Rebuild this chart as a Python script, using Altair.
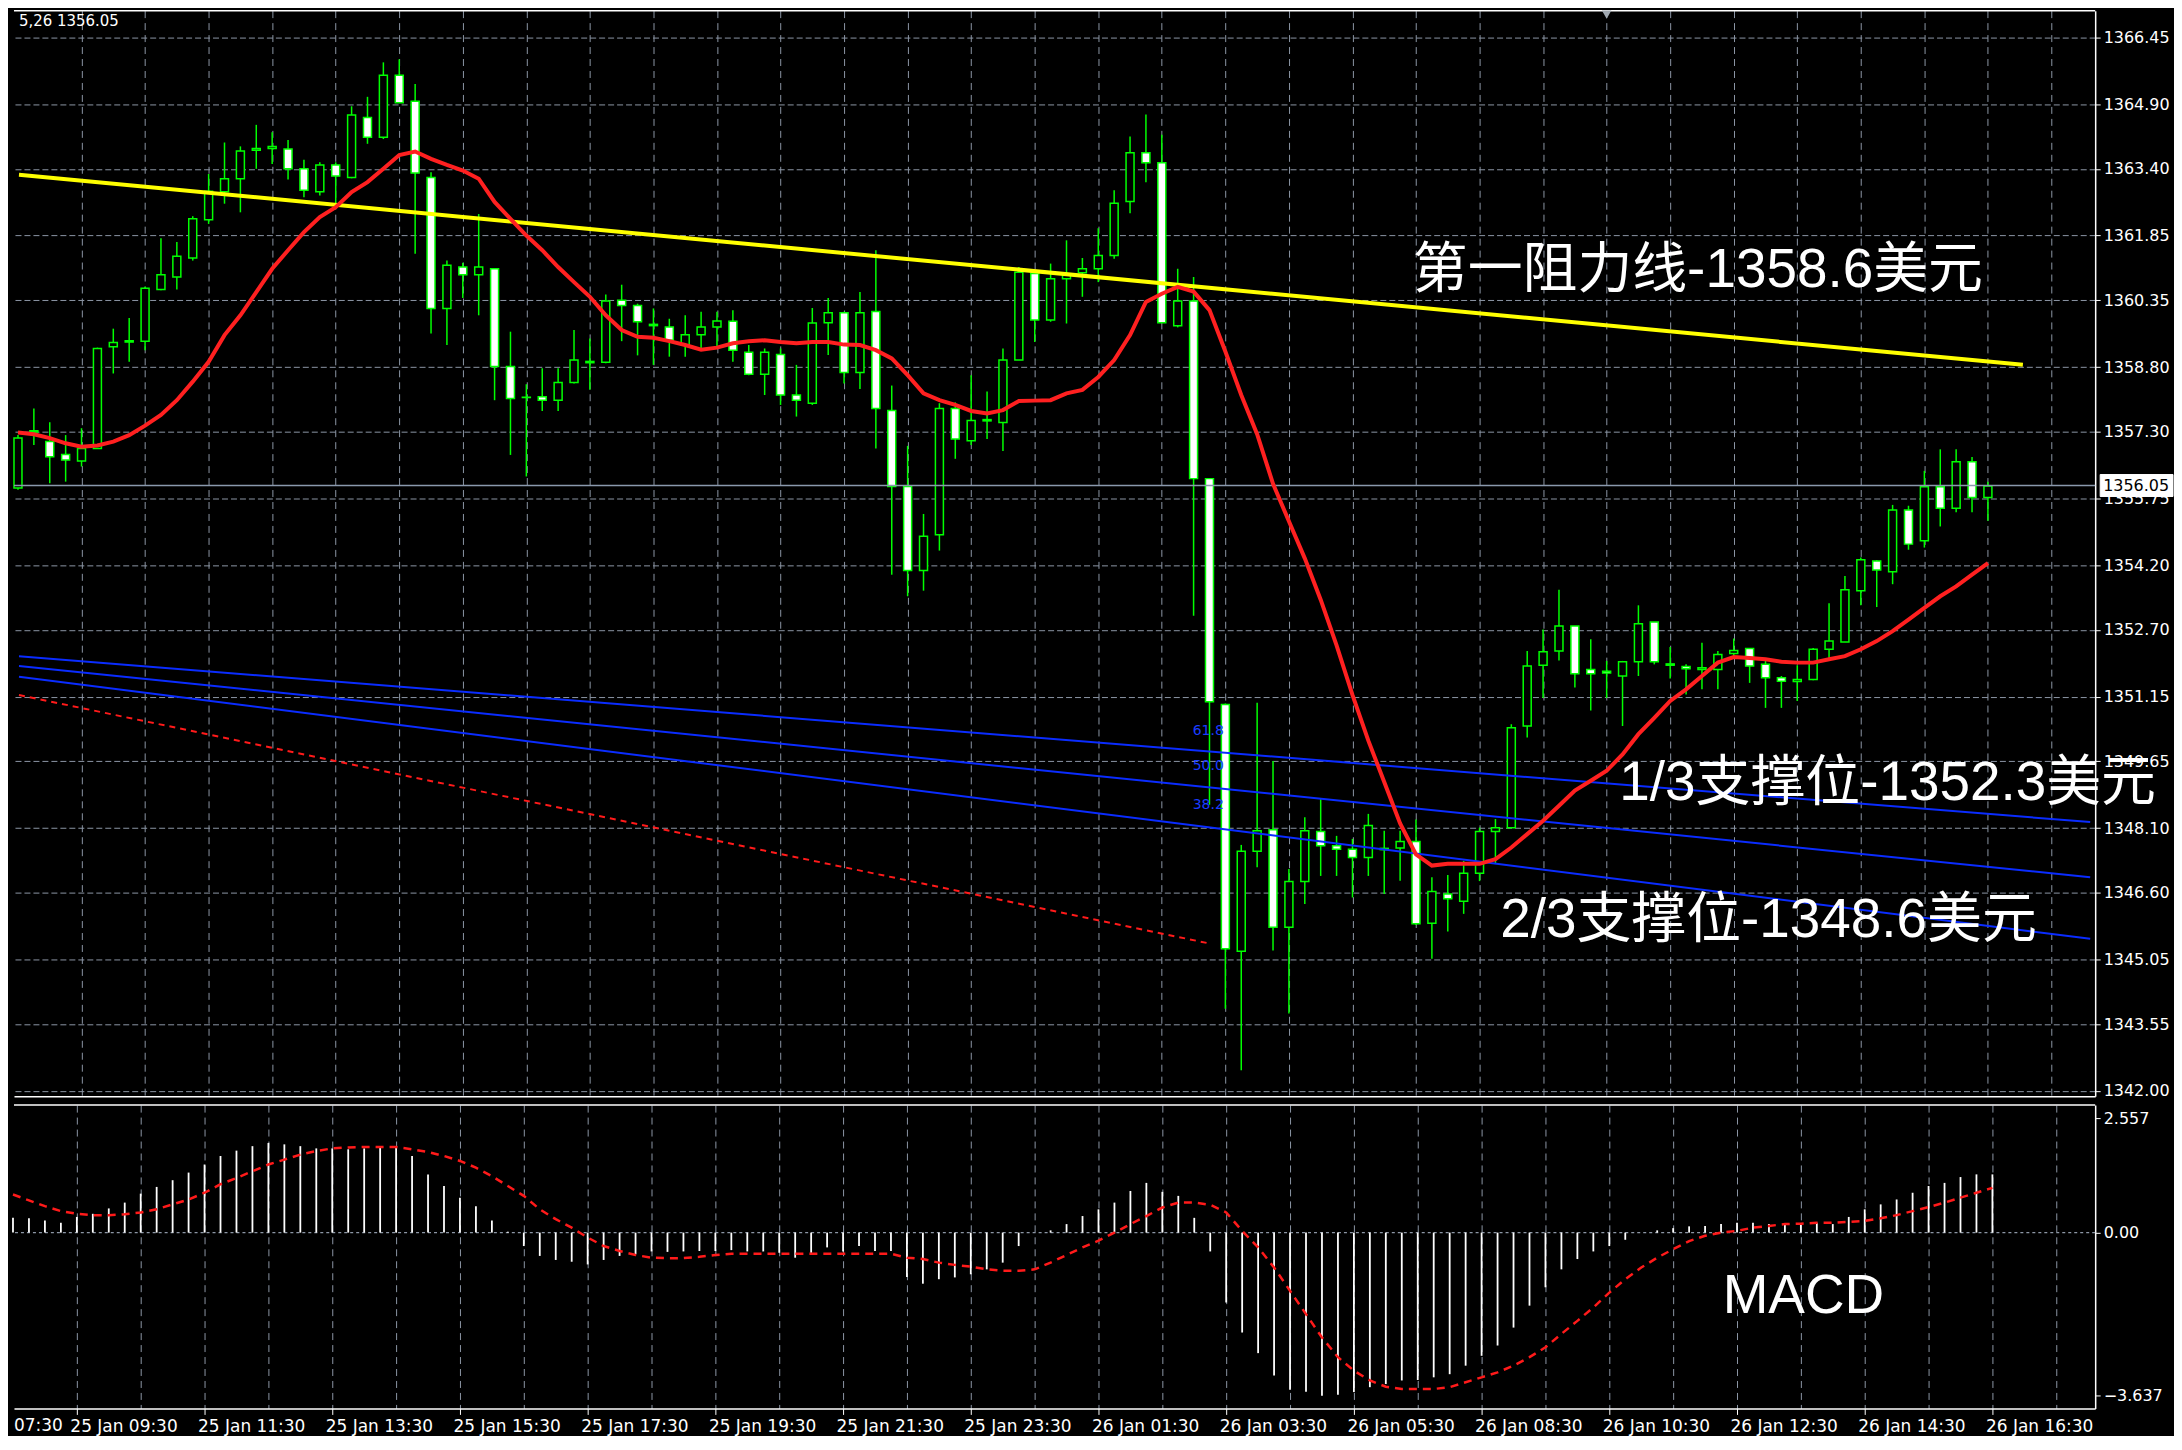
import altair as alt
import pandas as pd

# ---------------- data (M15 candles, index 0 = 25 Jan 08:30) ----------------
opens = [
    1355.99, 1357.29, 1357.07, 1356.77, 1356.62, 1356.91, 1359.27, 1359.38, 1359.40, 1360.60,
    1360.89, 1361.33, 1362.22, 1362.87, 1363.17, 1363.83, 1363.87, 1363.86, 1363.40, 1362.87,
    1363.49, 1363.20, 1364.59, 1364.13, 1365.57, 1364.97, 1363.20, 1360.16, 1361.12, 1360.94,
    1361.08, 1358.81, 1358.09, 1358.11, 1358.03, 1358.44, 1358.93, 1358.91, 1360.35, 1360.23,
    1359.79, 1359.73, 1359.31, 1359.55, 1359.73, 1359.86, 1359.14, 1358.63, 1359.09, 1358.15,
    1357.96, 1359.83, 1360.06, 1358.67, 1360.09, 1357.79, 1356.03, 1354.08, 1354.91, 1357.84,
    1357.09, 1357.58, 1357.51, 1358.96, 1360.97, 1359.89, 1360.85, 1360.99, 1361.08, 1361.39,
    1362.64, 1363.77, 1363.54, 1359.76, 1360.33, 1356.21, 1350.97, 1345.24, 1347.56, 1348.06,
    1345.80, 1346.86, 1348.02, 1347.69, 1347.61, 1347.42, 1347.63, 1347.64, 1347.79, 1345.89,
    1346.57, 1346.40, 1347.05, 1348.02, 1348.11, 1350.47, 1351.88, 1352.21, 1352.79, 1351.78,
    1351.74, 1351.63, 1351.96, 1352.88, 1351.91, 1351.85, 1351.78, 1351.78, 1352.15, 1352.27,
    1351.90, 1351.59, 1351.50, 1351.55, 1352.25, 1352.42, 1353.61, 1354.30, 1354.05, 1355.48,
    1354.77, 1356.02, 1355.52, 1356.60, 1355.77]
highs = [
    1357.22, 1357.84, 1357.52, 1357.22, 1357.38, 1359.25, 1359.69, 1359.94, 1360.66, 1361.79,
    1361.70, 1362.30, 1363.28, 1364.01, 1363.92, 1364.42, 1364.25, 1364.07, 1363.61, 1363.55,
    1363.55, 1364.85, 1365.07, 1365.87, 1365.94, 1365.37, 1363.32, 1361.27, 1361.22, 1362.35,
    1361.08, 1359.62, 1358.40, 1358.77, 1358.77, 1359.66, 1359.46, 1360.48, 1360.71, 1360.27,
    1360.16, 1359.92, 1360.00, 1360.08, 1360.08, 1360.12, 1359.31, 1359.23, 1359.23, 1358.85,
    1360.17, 1360.40, 1360.08, 1360.54, 1361.51, 1358.37, 1356.97, 1355.39, 1357.96, 1357.98,
    1358.61, 1358.23, 1359.23, 1361.12, 1360.98, 1361.20, 1361.74, 1361.33, 1362.02, 1362.90,
    1364.15, 1364.66, 1364.19, 1361.08, 1360.89, 1356.21, 1350.99, 1347.71, 1351.01, 1349.66,
    1347.15, 1348.35, 1348.77, 1347.92, 1347.85, 1348.43, 1348.04, 1348.04, 1348.30, 1346.96,
    1347.01, 1347.34, 1348.11, 1348.31, 1350.51, 1352.21, 1352.71, 1353.63, 1352.79, 1352.48,
    1351.98, 1351.98, 1353.27, 1352.88, 1352.30, 1351.90, 1352.40, 1352.21, 1352.50, 1352.28,
    1351.98, 1351.63, 1351.88, 1352.28, 1353.32, 1353.95, 1354.38, 1354.32, 1355.60, 1355.58,
    1356.39, 1356.89, 1356.89, 1356.71, 1356.14]
lows = [
    1355.95, 1356.99, 1356.10, 1356.14, 1356.49, 1356.91, 1358.65, 1358.92, 1359.19, 1360.58,
    1360.60, 1361.27, 1362.12, 1362.59, 1362.39, 1363.40, 1363.51, 1363.15, 1362.74, 1362.78,
    1362.51, 1363.18, 1363.98, 1364.09, 1364.93, 1361.43, 1359.58, 1359.31, 1360.40, 1360.00,
    1358.03, 1356.76, 1356.26, 1357.78, 1357.78, 1358.42, 1358.27, 1358.89, 1359.40, 1359.07,
    1358.85, 1359.04, 1359.04, 1359.23, 1359.23, 1358.92, 1358.61, 1358.15, 1357.92, 1357.65,
    1357.92, 1359.08, 1358.42, 1358.29, 1356.91, 1353.98, 1353.48, 1353.61, 1354.54, 1356.67,
    1356.99, 1357.13, 1356.85, 1358.96, 1359.38, 1359.85, 1359.81, 1360.43, 1360.77, 1361.31,
    1362.37, 1363.09, 1359.82, 1359.72, 1353.03, 1348.64, 1343.91, 1342.48, 1347.19, 1345.26,
    1343.80, 1346.34, 1346.99, 1346.99, 1346.49, 1346.99, 1346.57, 1346.88, 1345.85, 1345.07,
    1345.70, 1346.11, 1346.87, 1347.27, 1348.11, 1350.20, 1351.12, 1351.99, 1351.36, 1350.83,
    1351.12, 1350.47, 1351.63, 1351.90, 1351.57, 1351.20, 1351.32, 1351.32, 1352.05, 1351.47,
    1350.89, 1350.89, 1351.05, 1351.53, 1351.98, 1352.42, 1353.27, 1353.23, 1353.76, 1354.56,
    1354.61, 1355.10, 1355.43, 1355.43, 1355.23]
closes = [
    1357.15, 1357.32, 1356.72, 1356.64, 1356.91, 1359.23, 1359.37, 1359.41, 1360.63, 1360.94,
    1361.37, 1362.24, 1362.88, 1363.17, 1363.81, 1363.87, 1363.92, 1363.40, 1362.90, 1363.49,
    1363.23, 1364.65, 1364.13, 1365.57, 1364.93, 1363.30, 1360.16, 1361.16, 1360.94, 1361.12,
    1358.81, 1358.07, 1358.10, 1358.03, 1358.44, 1358.96, 1358.90, 1360.33, 1360.23, 1359.85,
    1359.76, 1359.42, 1359.55, 1359.73, 1359.87, 1359.19, 1358.63, 1359.14, 1358.15, 1358.03,
    1359.82, 1360.06, 1358.67, 1360.06, 1357.84, 1356.03, 1354.08, 1354.87, 1357.84, 1357.13,
    1357.56, 1357.55, 1358.96, 1361.00, 1359.89, 1360.85, 1360.93, 1361.08, 1361.39, 1362.60,
    1363.77, 1363.54, 1359.83, 1360.33, 1356.21, 1351.03, 1345.30, 1347.56, 1348.04, 1345.80,
    1346.86, 1348.04, 1347.69, 1347.61, 1347.42, 1348.16, 1347.60, 1347.79, 1345.88, 1346.63,
    1346.46, 1347.05, 1348.02, 1348.11, 1350.43, 1351.86, 1352.19, 1352.79, 1351.68, 1351.68,
    1351.70, 1351.96, 1352.84, 1351.96, 1351.88, 1351.80, 1351.82, 1352.13, 1352.22, 1351.86,
    1351.59, 1351.51, 1351.55, 1352.25, 1352.44, 1353.63, 1354.33, 1354.09, 1355.48, 1354.69,
    1356.02, 1355.52, 1356.60, 1355.77, 1356.04]
ma_line = [
    1357.28, 1357.24, 1357.15, 1357.03, 1356.95, 1356.98, 1357.07, 1357.22, 1357.44, 1357.69,
    1358.03, 1358.46, 1358.92, 1359.54, 1360.00, 1360.54, 1361.08, 1361.51, 1361.93, 1362.28,
    1362.51, 1362.86, 1363.09, 1363.40, 1363.72, 1363.80, 1363.63, 1363.49, 1363.36, 1363.17,
    1362.63, 1362.24, 1361.85, 1361.51, 1361.12, 1360.77, 1360.43, 1360.00, 1359.66, 1359.50,
    1359.48, 1359.40, 1359.31, 1359.20, 1359.25, 1359.35, 1359.40, 1359.42, 1359.38, 1359.35,
    1359.38, 1359.38, 1359.32, 1359.31, 1359.19, 1359.00, 1358.61, 1358.19, 1358.03, 1357.92,
    1357.78, 1357.72, 1357.80, 1358.01, 1358.02, 1358.03, 1358.19, 1358.27, 1358.57, 1358.96,
    1359.54, 1360.31, 1360.50, 1360.66, 1360.55, 1360.12, 1359.16, 1358.15, 1357.24, 1356.09,
    1355.22, 1354.36, 1353.40, 1352.34, 1351.19, 1350.13, 1349.17, 1348.21, 1347.49, 1347.23,
    1347.27, 1347.27, 1347.27, 1347.38, 1347.65, 1347.96, 1348.27, 1348.62, 1348.97, 1349.20,
    1349.43, 1349.81, 1350.28, 1350.66, 1351.05, 1351.32, 1351.63, 1351.94, 1352.07, 1352.05,
    1352.02, 1351.96, 1351.94, 1351.94, 1352.02, 1352.09, 1352.25, 1352.44, 1352.67, 1352.94,
    1353.21, 1353.48, 1353.71, 1353.98, 1354.25]
macd_hist = [
    0.33, 0.32, 0.27, 0.22, 0.35, 0.42, 0.54, 0.67, 0.87, 1.02,
    1.17, 1.34, 1.52, 1.71, 1.83, 1.93, 2.00, 1.97, 1.93, 1.88,
    1.88, 1.86, 1.88, 1.91, 1.91, 1.71, 1.30, 1.04, 0.78, 0.59,
    0.27, 0.02, -0.30, -0.52, -0.61, -0.65, -0.71, -0.61, -0.52, -0.48,
    -0.42, -0.43, -0.42, -0.41, -0.41, -0.39, -0.42, -0.42, -0.45, -0.56,
    -0.45, -0.33, -0.42, -0.30, -0.41, -0.41, -0.99, -1.14, -1.04, -1.00,
    -0.93, -0.82, -0.67, -0.30, 0.00, 0.05, 0.19, 0.37, 0.52, 0.67,
    0.93, 1.11, 0.91, 0.82, 0.33, -0.42, -1.56, -2.23, -2.69, -3.19,
    -3.51, -3.55, -3.64, -3.62, -3.56, -3.45, -3.38, -3.30, -3.29, -3.23,
    -3.16, -2.97, -2.75, -2.52, -2.12, -1.63, -1.22, -0.82, -0.59, -0.42,
    -0.30, -0.16, 0.00, 0.05, 0.10, 0.14, 0.15, 0.19, 0.22, 0.22,
    0.19, 0.17, 0.17, 0.22, 0.19, 0.35, 0.52, 0.63, 0.74, 0.89,
    1.04, 1.11, 1.24, 1.30, 1.30]
macd_signal = [
    0.85, 0.72, 0.59, 0.48, 0.42, 0.39, 0.39, 0.41, 0.45, 0.52,
    0.63, 0.74, 0.89, 1.08, 1.22, 1.37, 1.52, 1.63, 1.74, 1.82,
    1.88, 1.90, 1.91, 1.91, 1.91, 1.86, 1.80, 1.71, 1.60, 1.45,
    1.26, 1.04, 0.82, 0.52, 0.30, 0.11, -0.11, -0.30, -0.41, -0.50,
    -0.56, -0.57, -0.57, -0.54, -0.50, -0.47, -0.47, -0.47, -0.47, -0.47,
    -0.47, -0.47, -0.47, -0.47, -0.47, -0.47, -0.56, -0.59, -0.67, -0.72,
    -0.76, -0.82, -0.85, -0.85, -0.82, -0.67, -0.50, -0.33, -0.18, 0.00,
    0.19, 0.37, 0.56, 0.67, 0.67, 0.62, 0.45, 0.04, -0.33, -0.78,
    -1.30, -1.82, -2.34, -2.78, -3.08, -3.30, -3.44, -3.49, -3.49, -3.49,
    -3.45, -3.34, -3.23, -3.12, -2.97, -2.78, -2.56, -2.26, -1.97, -1.67,
    -1.34, -1.04, -0.78, -0.56, -0.37, -0.19, -0.07, 0.00, 0.04, 0.11,
    0.15, 0.19, 0.20, 0.22, 0.22, 0.24, 0.26, 0.32, 0.39, 0.48,
    0.57, 0.67, 0.78, 0.89, 1.00]

price_ticks = [1342.00, 1343.55, 1345.05, 1346.60, 1348.10, 1349.65, 1351.15, 1352.70,
               1354.20, 1355.75, 1357.30, 1358.80, 1360.35, 1361.85, 1363.40, 1364.90, 1366.45]
macd_ticks = [2.557, 0.0, -3.637]
grid_idx = list(range(4, 129, 4))
time_tick_idx = [4, 12, 20, 28, 36, 44, 52, 60, 68, 76, 84, 92, 100, 108, 116, 124]
time_tick_labels = ["25 Jan 09:30", "25 Jan 11:30", "25 Jan 13:30", "25 Jan 15:30",
                    "25 Jan 17:30", "25 Jan 19:30", "25 Jan 21:30", "25 Jan 23:30",
                    "26 Jan 01:30", "26 Jan 03:30", "26 Jan 05:30", "26 Jan 08:30",
                    "26 Jan 10:30", "26 Jan 12:30", "26 Jan 14:30", "26 Jan 16:30"]
cut_label = "07:30"

X_MIN, X_MAX = 0.0625, 130.4375
resist_idx = [X_MIN, 126.2]
resist_price = [1363.26, 1358.85]
fib_idx = [X_MIN, X_MAX]
fib_618 = [1352.09, 1348.24]
fib_500 = [1351.86, 1346.96]
fib_382 = [1351.61, 1345.53]
fib_names = ["61.8", "50.0", "38.2"]
fib_label_idx = 75.9
fib_label_price = [1350.36, 1349.53, 1348.64]
slow_ma_idx = [X_MIN, 74.9]
slow_ma_price = [1351.19, 1345.43]
last_price = 1356.05
header_text = "5,26 1356.05"
shift_marker_idx = 100

notes = ["第一阻力线-1358.6美元", "1/3支撑位-1352.3美元", "2/3支撑位-1348.6美元"]
notes_idx = [87.8, 100.8, 93.3]
notes_price = [1361.05, 1349.15, 1345.96]
macd_note = "MACD"
macd_note_idx = 107.1
macd_note_val = -1.41

# ---------------- layout / styles ----------------
W, H1, H2 = 2086, 1088, 304
P_MIN, P_MAX = 1341.88, 1367.07
M_MIN, M_MAX = -3.924, 2.846
GRID = "#8c96a5"
GREEN = "#00ff00"
AXFONT = "DejaVu Sans"
BIGFONT = "Liberation Sans, Noto Sans CJK SC"

n = len(opens)
idx = list(range(n))
candles = pd.DataFrame({"idx": idx, "o": opens, "h": highs, "l": lows, "c": closes})
ma_df = pd.DataFrame({"idx": idx, "p": ma_line})
macd_df = pd.DataFrame({"idx": idx, "v": macd_hist, "s": macd_signal, "z": [0.0] * n})
resist_df = pd.DataFrame({"idx": resist_idx, "p": resist_price})
fib_df = pd.DataFrame({
    "idx": fib_idx * 3,
    "p": fib_618 + fib_500 + fib_382,
    "g": [fib_names[0]] * 2 + [fib_names[1]] * 2 + [fib_names[2]] * 2,
})
fib_lab_df = pd.DataFrame({"idx": [fib_label_idx] * 3, "p": fib_label_price, "t": fib_names})
slow_df = pd.DataFrame({"idx": slow_ma_idx, "p": slow_ma_price})
last_df = pd.DataFrame({"p": [last_price], "t": [f"{last_price:.2f}"]})
notes_df = pd.DataFrame({"idx": notes_idx, "p": notes_price, "t": notes})
header_df = pd.DataFrame({"idx": [X_MIN], "t": [header_text]})
marker_df = pd.DataFrame({"idx": [shift_marker_idx]})
macd_note_df = pd.DataFrame({"idx": [macd_note_idx], "v": [macd_note_val], "t": [macd_note]})
cut_df = pd.DataFrame({"idx": [X_MIN], "t": [cut_label]})
one_df = pd.DataFrame({"a": [0]})

xscale = alt.Scale(domain=[X_MIN, X_MAX], nice=False, zero=False)
yscale = alt.Scale(domain=[P_MIN, P_MAX], nice=False, zero=False)
mscale = alt.Scale(domain=[M_MIN, M_MAX], nice=False, zero=False)

xaxis_main = alt.Axis(values=grid_idx, grid=True, gridColor=GRID, gridDash=[7, 5], gridWidth=1,
                      labels=False, ticks=False, domain=True, domainColor="white",
                      domainWidth=1.5, title=None)
yaxis_main = alt.Axis(orient="right", values=price_ticks, format=".2f", grid=True,
                      gridColor=GRID, gridDash=[6, 3], gridWidth=1, tickColor="white",
                      tickSize=5, domainColor="white", domainWidth=1.5, labelColor="white",
                      labelFont=AXFONT, labelFontSize=16, labelPadding=3,
                      labelOverlap=False, title=None)

label_expr = " : ".join(f"datum.value == {i} ? '{t}'"
                        for i, t in zip(time_tick_idx, time_tick_labels)) + " : ''"
xaxis_macd = alt.Axis(values=grid_idx, grid=True, gridColor=GRID, gridDash=[7, 5], gridWidth=1,
                      labelExpr=label_expr, labelAlign="left", labelBaseline="top",
                      labelPadding=4, labelOffset=-7, labelFlush=False, labelOverlap=False,
                      labelColor="white", labelFont=AXFONT, labelFontSize=17,
                      tickColor="white", tickSize=6,
                      tickOpacity={"condition": {"test": "datum.value % 8 == 4", "value": 1},
                                   "value": 0},
                      domainColor="white", domainWidth=1.5, title=None)
yaxis_macd = alt.Axis(orient="right", values=macd_ticks,
                      labelExpr="datum.value == 0 ? '0.00' : format(datum.value, '.3f')",
                      grid=False, tickColor="white", tickSize=5, domainColor="white",
                      domainWidth=1.5, labelColor="white", labelFont=AXFONT, labelFontSize=16,
                      labelPadding=3, labelOverlap=False, title=None)


def X(f="idx"):
    return alt.X(f"{f}:Q", scale=xscale, axis=xaxis_main)


def Y(f):
    return alt.Y(f"{f}:Q", scale=yscale, axis=yaxis_main)


def XM(f="idx"):
    return alt.X(f"{f}:Q", scale=xscale, axis=xaxis_macd)


def YM(f):
    return alt.Y(f"{f}:Q", scale=mscale, axis=yaxis_macd)


# ---------------- main price panel ----------------
wicks = alt.Chart(candles).mark_rule(color=GREEN, strokeWidth=1.5).encode(
    x=X(), y=Y("l"), y2=alt.Y2("h:Q"))
bodies = alt.Chart(candles).mark_bar(size=8, stroke=GREEN, strokeWidth=1.5).encode(
    x=X(), y=Y("o"), y2=alt.Y2("c:Q"),
    fill=alt.condition("datum.o > datum.c", alt.value("#ffffff"), alt.value("#000000")))
last_rule = alt.Chart(last_df).mark_rule(color="#8a99ad", strokeWidth=1.4).encode(y=Y("p"))
slow_line = alt.Chart(slow_df).mark_line(color="#ff1a1a", strokeWidth=2, strokeDash=[6, 5]).encode(
    x=X(), y=Y("p"))
fib_lines = alt.Chart(fib_df).mark_line(color="#0a2cff", strokeWidth=2).encode(
    x=X(), y=Y("p"), detail="g:N")
fib_text = alt.Chart(fib_lab_df).mark_text(align="right", baseline="middle", color="#1a3cff",
                                           font=AXFONT, fontSize=14).encode(
    x=X(), y=Y("p"), text="t:N")
resist = alt.Chart(resist_df).mark_line(color="#ffff00", strokeWidth=4).encode(x=X(), y=Y("p"))
ma = alt.Chart(ma_df).mark_line(color="#ff2020", strokeWidth=4).encode(x=X(), y=Y("p"))
note_text = alt.Chart(notes_df).mark_text(align="left", baseline="middle", color="white",
                                          font=BIGFONT, fontSize=55).encode(
    x=X(), y=Y("p"), text="t:N")
box = alt.Chart(last_df).mark_rect(fill="white", stroke="white", yOffset=-11, y2Offset=11).encode(
    x=alt.value(W + 5), x2=alt.value(W + 78), y=Y("p"), y2=alt.Y2("p:Q"))
box_text = alt.Chart(last_df).mark_text(align="left", baseline="middle", color="black",
                                        font=AXFONT, fontSize=16).encode(
    x=alt.value(W + 8), y=Y("p"), text="t:N")
top_border = alt.Chart(one_df).mark_rule(color="white", strokeWidth=1.5).encode(y=alt.value(0))
header = alt.Chart(header_df).mark_text(align="left", baseline="middle", color="white",
                                        font=AXFONT, fontSize=15).encode(
    x=X(), y=alt.value(10), text="t:N")
marker = alt.Chart(marker_df).mark_point(shape="triangle-down", filled=True, color="#a0a8b0",
                                         size=90, opacity=1).encode(x=X(), y=alt.value(4))

main = alt.layer(wicks, bodies, last_rule, slow_line, fib_lines, fib_text, resist, ma,
                 note_text, box, box_text, top_border, header, marker).properties(
    width=W, height=H1)

# ---------------- MACD panel ----------------
zero_line = alt.Chart(one_df).mark_rule(color=GRID, strokeDash=[3, 3], strokeWidth=1.2).encode(
    y=YM("a"))
hist = alt.Chart(macd_df).mark_rule(color="white", strokeWidth=1.8).encode(
    x=XM(), y=YM("v"), y2=alt.Y2("z:Q"))
signal = alt.Chart(macd_df).mark_line(color="#ff1a1a", strokeWidth=2.5, strokeDash=[8, 6]).encode(
    x=XM(), y=YM("s"))
macd_text = alt.Chart(macd_note_df).mark_text(align="left", baseline="middle", color="white",
                                              font=BIGFONT, fontSize=55).encode(
    x=XM(), y=YM("v"), text="t:N")
macd_top = alt.Chart(one_df).mark_rule(color="white", strokeWidth=1.5).encode(y=alt.value(0))
cut_text = alt.Chart(cut_df).mark_text(align="left", baseline="top", color="white",
                                       font=AXFONT, fontSize=17).encode(
    x=XM(), y=alt.value(H2 + 10), text="t:N")

macd = alt.layer(zero_line, hist, signal, macd_text, macd_top, cut_text).properties(
    width=W, height=H2)

chart = alt.vconcat(main, macd, spacing=5).properties(
    padding=0, background="black").configure_view(strokeWidth=0, fill="black")

chart.save("out.html", embed_options={"renderer": "svg", "actions": False})
